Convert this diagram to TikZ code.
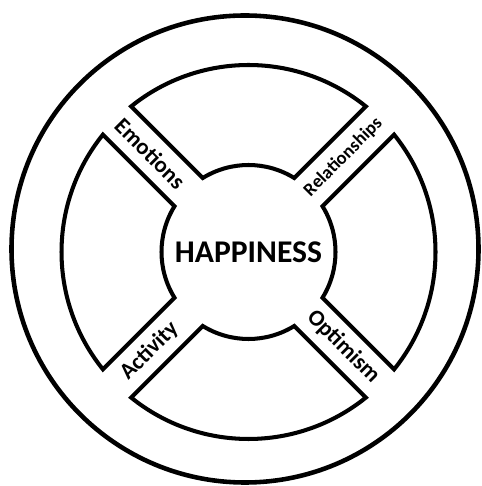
\documentclass[tikz,border=0pt]{standalone}
\usepackage{fontspec}
\setmainfont{Carlito}
\usetikzlibrary{positioning}
\tikzset{
  ring/.style={draw, line width=2.6pt},
  piece/.style={draw, line width=2.3pt, line join=miter},
  bandlabel/.style={font=\bfseries\fontsize{13}{15}\selectfont, inner sep=0pt},
}

\begin{document}
\begin{tikzpicture}[x=0.02cm, y=0.02cm]
  \useasboundingbox (0,0) rectangle (481,486);
  \coordinate (c) at (248.5,234);
  \draw[ring] (245,237) circle (233.5);

  % four ring segments, cut apart by the diagonal bands
  \foreach \t in {0,90,180,270} {
    \draw[piece] ([shift={(\t+38.86:187)}]c) arc[start angle=\t+38.86, end angle=\t-38.86, radius=187]
      -- ([shift={(\t-31.71:87)}]c) arc[start angle=\t-31.71, end angle=\t+31.71, radius=87] -- cycle;
  }

  \node[font=\bfseries\fontsize{18}{20}\selectfont] (hap) at (c) {HAPPINESS};

  \node[bandlabel, rotate=-45] (emo) at ([shift={(135:139)}]c) {Emotions};
  \node[bandlabel, rotate=45, font=\bfseries\fontsize{10.5}{12}\selectfont] (rel) at ([shift={(45:134)}]c) {Relationships};
  \node[bandlabel, rotate=-45] (opt) at ([shift={(-45:134)}]c) {Optimism};
  \node[bandlabel, rotate=45] (act) at ([shift={(225:140)}]c) {Activity};
\end{tikzpicture}
\end{document}
